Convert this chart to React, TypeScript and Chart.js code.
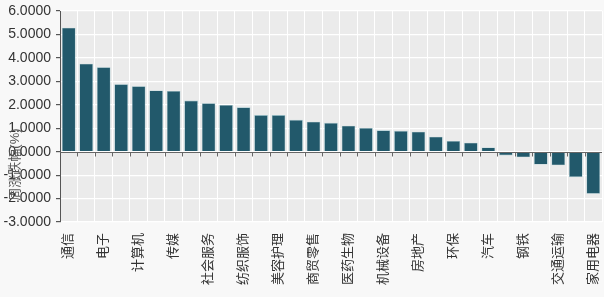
import React, { useEffect, useRef } from "react";
import { Chart, registerables } from "chart.js";

Chart.register(...registerables);

const categories: string[] = [
  "通信", "国防军工", "电子", "有色金属", "计算机", "非银金融", "传媒", "电力设备",
  "社会服务", "建筑装饰", "纺织服饰", "轻工制造", "美容护理", "综合", "商贸零售", "基础化工",
  "医药生物", "建筑材料", "机械设备", "农林牧渔", "房地产", "公用事业", "环保", "食品饮料",
  "汽车", "银行", "钢铁", "煤炭", "交通运输", "石油石化", "家用电器",
];

const weeklyChange: number[] = [
  5.29, 3.75, 3.60, 2.88, 2.79, 2.61, 2.59, 2.18,
  2.07, 1.99, 1.89, 1.56, 1.56, 1.36, 1.28, 1.23,
  1.11, 1.01, 0.91, 0.89, 0.85, 0.64, 0.46, 0.38,
  0.18, -0.16, -0.24, -0.55, -0.58, -1.09, -1.80,
];

const yMin = -3;
const yMax = 6;
const yStep = 1;
const yTitle = "周涨跌幅(%)";

const FONT = "'Liberation Sans', Arial, 'Noto Sans CJK SC', sans-serif";

const panelPlugin = {
  id: "panel",
  beforeDraw(chart: any) {
    const { ctx, chartArea } = chart;
    ctx.save();
    ctx.fillStyle = "#f8f8f8";
    ctx.fillRect(0, 0, chart.width, chart.height);
    ctx.fillStyle = "#ebebeb";
    ctx.fillRect(chartArea.left, chartArea.top, chartArea.right - chartArea.left, chartArea.bottom - chartArea.top);
    ctx.restore();
  },
  afterDatasetsDraw(chart: any) {
    const { ctx, chartArea } = chart;
    const x = chart.scales.x;
    const y = chart.scales.y;
    const y0 = Math.round(y.getPixelForValue(0)) + 0.5;
    ctx.save();
    ctx.strokeStyle = "#666";
    ctx.lineWidth = 1;
    ctx.beginPath();
    ctx.moveTo(chartArea.left, y0);
    ctx.lineTo(chartArea.right, y0);
    const n = categories.length;
    for (let i = 1; i < n; i++) {
      const px = Math.round((x.getPixelForValue(i - 1) + x.getPixelForValue(i)) / 2) + 0.5;
      ctx.moveTo(px, y0);
      ctx.lineTo(px, y0 + 4);
    }
    ctx.stroke();
    // y-axis title
    ctx.fillStyle = "#555";
    ctx.font = "13px " + FONT;
    ctx.textAlign = "center";
    ctx.textBaseline = "middle";
    ctx.translate(15, y.getPixelForValue(-0.55));
    ctx.rotate(-Math.PI / 2);
    ctx.fillText(yTitle, 0, 0);
    ctx.restore();
  },
};

export default function App() {
  const canvasRef = useRef<HTMLCanvasElement | null>(null);

  useEffect(() => {
    document.body.style.margin = "0";
    const canvas = canvasRef.current;
    if (!canvas) return;
    const chart = new Chart(canvas, {
      type: "bar",
      data: {
        labels: categories,
        datasets: [
          {
            data: weeklyChange,
            backgroundColor: "#22596b",
            borderColor: "#9fc7cf",
            borderWidth: 0.6,
            categoryPercentage: 1,
            barPercentage: 0.78,
          },
        ],
      },
      options: {
        animation: false,
        responsive: true,
        maintainAspectRatio: false,
        layout: { padding: { top: 11, right: 2, left: 0, bottom: 0 } },
        plugins: {
          legend: { display: false },
          tooltip: { enabled: false },
          title: { display: false },
        },
        scales: {
          x: {
            offset: true,
            grid: {
              offset: true,
              color: "#ffffff",
              lineWidth: 1,
              drawTicks: false,
            },
            border: { display: false },
            ticks: {
              autoSkip: false,
              maxRotation: 90,
              minRotation: 90,
              padding: 11,
              color: "#333",
              font: { size: 13, family: FONT },
              callback: (_v: any, i: number) => (i % 2 === 0 ? categories[i] : ""),
            },
            afterFit: (scale: any) => {
              scale.height = 75;
              scale.paddingLeft = 0;
              scale.paddingRight = 0;
            },
          },
          y: {
            min: yMin,
            max: yMax,
            ticks: {
              stepSize: yStep,
              color: "#333",
              padding: 5,
              font: { size: 14, family: FONT },
              callback: (v: any) => Number(v).toFixed(4),
            },
            grid: {
              color: "#ffffff",
              lineWidth: 1.2,
              tickColor: "#555",
              tickLength: 4,
            },
            border: { display: true, color: "#555", width: 1 },
            afterFit: (scale: any) => {
              scale.width = 60;
              scale.paddingTop = 0;
              scale.paddingBottom = 0;
            },
          },
        },
      },
      plugins: [panelPlugin],
    });
    return () => chart.destroy();
  }, []);

  return (
    <div style={{ position: "fixed", left: 0, top: 0, width: 604, height: 297 }}>
      <canvas ref={canvasRef} />
    </div>
  );
}
